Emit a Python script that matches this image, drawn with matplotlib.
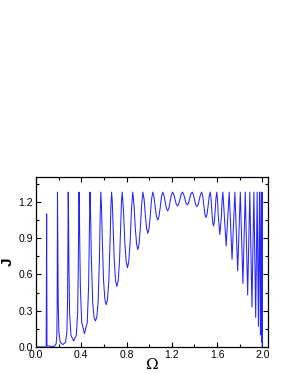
import numpy as np
import matplotlib
matplotlib.use('Agg')
from matplotlib import pyplot as plt
from matplotlib.ticker import MultipleLocator

# Omega / J samples, one row per resonance period
omega = [
	0.0, 0.090, 0.094, 0.097,
	0.142, 0.166, 0.178, 0.184, 0.187, 0.190,
	0.193, 0.196, 0.202, 0.214, 0.2375, 0.261, 0.273, 0.279, 0.282, 0.285,
	0.288, 0.291, 0.297, 0.309, 0.3325, 0.356, 0.368, 0.374, 0.377, 0.380,
	0.383, 0.386, 0.392, 0.404, 0.4285, 0.453, 0.465, 0.471, 0.474, 0.477,
	0.483, 0.489, 0.501, 0.513, 0.525, 0.537, 0.549, 0.561, 0.567, 0.573,
	0.579, 0.585, 0.597, 0.609, 0.6205, 0.632, 0.644, 0.656, 0.662, 0.668,
	0.674, 0.680, 0.6915, 0.703, 0.715, 0.727, 0.7385, 0.750, 0.756, 0.762,
	0.7736, 0.785, 0.797, 0.8085, 0.820, 0.832, 0.8434, 0.855,
	0.866, 0.8775, 0.889, 0.900, 0.911, 0.9225, 0.934, 0.945,
	0.956, 0.967, 0.978, 0.9885, 0.999, 1.010, 1.021, 1.032,
	1.043, 1.054, 1.065, 1.076, 1.087, 1.098, 1.109, 1.120,
	1.131, 1.142, 1.153, 1.1635, 1.174, 1.185, 1.196, 1.207,
	1.218, 1.229, 1.240, 1.2505, 1.261, 1.272, 1.283, 1.294,
	1.305, 1.3155, 1.326, 1.337, 1.348, 1.3585, 1.369, 1.380,
	1.3906, 1.4013, 1.412, 1.4225, 1.433, 1.4437, 1.4544, 1.465,
	1.4744, 1.4838, 1.493, 1.5025, 1.512, 1.5213, 1.5306, 1.540,
	1.5473, 1.5545, 1.5618, 1.569, 1.5763, 1.5835, 1.5908, 1.598,
	1.6048, 1.6115, 1.625, 1.6385, 1.6453, 1.652,
	1.681, 1.708, 1.733, 1.758, 1.783, 1.806, 1.829, 1.850,
	1.871, 1.890, 1.909, 1.926, 1.942, 1.955, 1.966, 1.976,
	1.984, 1.990, 1.995, 1.998, 2.000,
]
J = [
	0.0, 0.0, 1.10, 0.010,
	0.004, 0.008, 0.027, 0.097, 0.315, 1.28,
	0.797, 0.377, 0.125, 0.039, 0.020, 0.039, 0.125, 0.377, 0.797, 1.28,
	1.035, 0.661, 0.278, 0.096, 0.050, 0.096, 0.278, 0.661, 1.035, 1.28,
	1.161, 0.911, 0.500, 0.203, 0.110, 0.203, 0.500, 0.911, 1.161, 1.28,
	1.077, 0.742, 0.368, 0.245, 0.215, 0.245, 0.368, 0.742, 1.077, 1.28,
	1.162, 0.921, 0.550, 0.392, 0.350, 0.392, 0.550, 0.921, 1.162, 1.28,
	1.208, 1.042, 0.719, 0.549, 0.500, 0.549, 0.719, 1.042, 1.208, 1.28,
	1.123, 0.867, 0.706, 0.655, 0.706, 0.867, 1.123, 1.28,
	1.178, 0.988, 0.851, 0.805, 0.851, 0.988, 1.178, 1.28,
	1.216, 1.084, 0.978, 0.940, 0.978, 1.084, 1.216, 1.28,
	1.240, 1.154, 1.078, 1.050, 1.078, 1.154, 1.240, 1.28,
	1.255, 1.198, 1.145, 1.125, 1.145, 1.198, 1.255, 1.28,
	1.262, 1.220, 1.180, 1.165, 1.180, 1.220, 1.262, 1.28,
	1.264, 1.225, 1.189, 1.175, 1.189, 1.225, 1.264, 1.28,
	1.261, 1.217, 1.176, 1.160, 1.176, 1.217, 1.261, 1.28,
	1.244, 1.166, 1.097, 1.070, 1.097, 1.166, 1.244, 1.28,
	1.229, 1.123, 1.033, 1.000, 1.033, 1.123, 1.229, 1.28,
	1.213, 1.077, 0.930, 1.077, 1.213, 1.28,
	0.835, 1.28, 0.725, 1.28, 0.630, 1.28, 0.525, 1.28,
	0.430, 1.28, 0.330, 1.28, 0.245, 1.28, 0.170, 1.28,
	0.100, 1.28, 0.040, 1.28, 0.0,
]

x_ticks = [0.0, 0.4, 0.8, 1.2, 1.6, 2.0]
y_ticks = [0.0, 0.3, 0.6, 0.9, 1.2]

plt.rcParams['font.family'] = ['Liberation Sans', 'DejaVu Sans']

fig = plt.figure(figsize=(2.89, 3.74), dpi=100)
ax = fig.add_axes([0.1246, 0.0722, 0.8024, 0.4545])

ax.plot(omega, J, color='#2424ff', lw=0.75)

ax.set_xlim(0, 2.05)
ax.set_ylim(0, 1.405)
ax.set_xticks(x_ticks)
ax.set_xticklabels([f'{v:.1f}' for v in x_ticks])
ax.set_yticks(y_ticks)
ax.set_yticklabels([f'{v:.1f}' for v in y_ticks])
ax.xaxis.set_minor_locator(MultipleLocator(0.2))
ax.yaxis.set_minor_locator(MultipleLocator(0.15))

ax.tick_params(which='both', direction='in', top=True, right=True, labelsize=7.5, width=0.8, pad=2)
ax.tick_params(which='major', length=3.5)
ax.tick_params(which='minor', length=2)
for s in ax.spines.values():
	s.set_linewidth(0.9)

ax.set_xlabel('Ω', family='DejaVu Serif', fontsize=11, labelpad=-1)
ax.set_ylabel('J', fontsize=11, fontweight='bold', labelpad=3)

fig.savefig('out.png', dpi=100)
